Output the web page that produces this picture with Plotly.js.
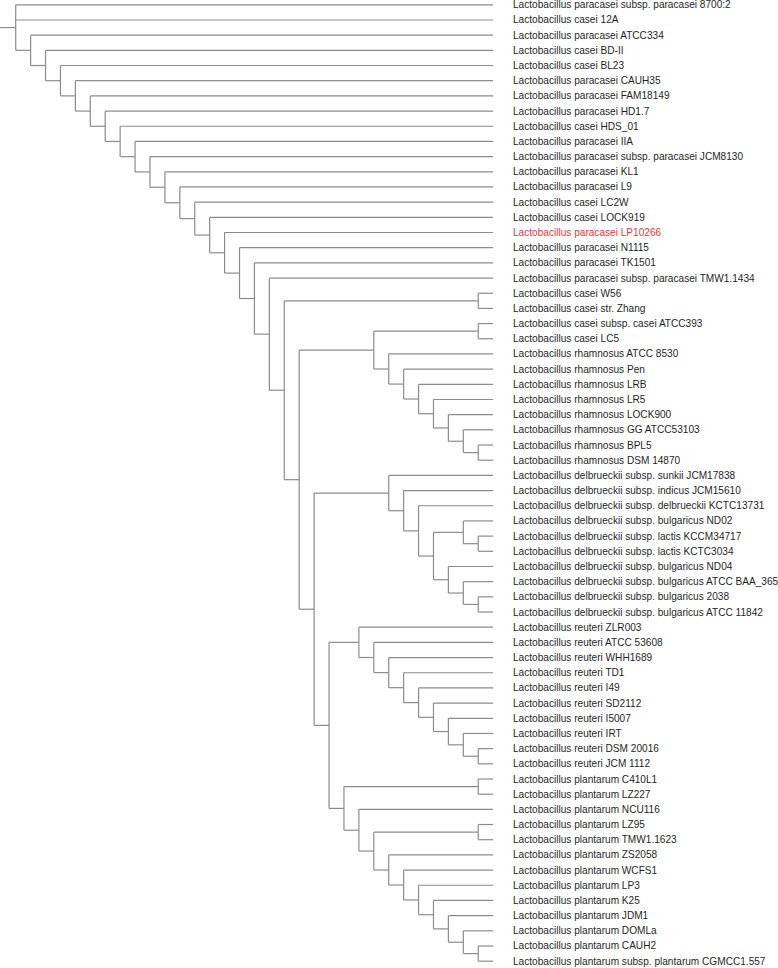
<!DOCTYPE html>
<html>
<head>
<meta charset="utf-8">
<script src="https://cdn.plot.ly/plotly-3.0.1.min.js"></script>
<style>html,body{margin:0;padding:0;background:#fff}</style>
</head>
<body>
<div id="chart" style="width:778px;height:968px"></div>
<script>
// ---- data ----
const leafNames = [
  "Lactobacillus paracasei subsp. paracasei 8700:2",
  "Lactobacillus casei 12A",
  "Lactobacillus paracasei ATCC334",
  "Lactobacillus casei BD-II",
  "Lactobacillus casei BL23",
  "Lactobacillus paracasei CAUH35",
  "Lactobacillus paracasei FAM18149",
  "Lactobacillus paracasei HD1.7",
  "Lactobacillus casei HDS_01",
  "Lactobacillus paracasei IIA",
  "Lactobacillus paracasei subsp. paracasei JCM8130",
  "Lactobacillus paracasei KL1",
  "Lactobacillus paracasei L9",
  "Lactobacillus casei LC2W",
  "Lactobacillus casei LOCK919",
  "Lactobacillus paracasei LP10266",
  "Lactobacillus paracasei N1115",
  "Lactobacillus paracasei TK1501",
  "Lactobacillus paracasei subsp. paracasei TMW1.1434",
  "Lactobacillus casei W56",
  "Lactobacillus casei str. Zhang",
  "Lactobacillus casei subsp. casei ATCC393",
  "Lactobacillus casei LC5",
  "Lactobacillus rhamnosus ATCC 8530",
  "Lactobacillus rhamnosus Pen",
  "Lactobacillus rhamnosus LRB",
  "Lactobacillus rhamnosus LR5",
  "Lactobacillus rhamnosus LOCK900",
  "Lactobacillus rhamnosus GG ATCC53103",
  "Lactobacillus rhamnosus BPL5",
  "Lactobacillus rhamnosus DSM 14870",
  "Lactobacillus delbrueckii subsp. sunkii JCM17838",
  "Lactobacillus delbrueckii subsp. indicus JCM15610",
  "Lactobacillus delbrueckii subsp. delbrueckii KCTC13731",
  "Lactobacillus delbrueckii subsp. bulgaricus ND02",
  "Lactobacillus delbrueckii subsp. lactis KCCM34717",
  "Lactobacillus delbrueckii subsp. lactis KCTC3034",
  "Lactobacillus delbrueckii subsp. bulgaricus ND04",
  "Lactobacillus delbrueckii subsp. bulgaricus ATCC BAA_365",
  "Lactobacillus delbrueckii subsp. bulgaricus 2038",
  "Lactobacillus delbrueckii subsp. bulgaricus ATCC 11842",
  "Lactobacillus reuteri ZLR003",
  "Lactobacillus reuteri ATCC 53608",
  "Lactobacillus reuteri WHH1689",
  "Lactobacillus reuteri TD1",
  "Lactobacillus reuteri I49",
  "Lactobacillus reuteri SD2112",
  "Lactobacillus reuteri I5007",
  "Lactobacillus reuteri IRT",
  "Lactobacillus reuteri DSM 20016",
  "Lactobacillus reuteri JCM 1112",
  "Lactobacillus plantarum C410L1",
  "Lactobacillus plantarum LZ227",
  "Lactobacillus plantarum NCU116",
  "Lactobacillus plantarum LZ95",
  "Lactobacillus plantarum TMW1.1623",
  "Lactobacillus plantarum ZS2058",
  "Lactobacillus plantarum WCFS1",
  "Lactobacillus plantarum LP3",
  "Lactobacillus plantarum K25",
  "Lactobacillus plantarum JDM1",
  "Lactobacillus plantarum DOMLa",
  "Lactobacillus plantarum CAUH2",
  "Lactobacillus plantarum subsp. plantarum CGMCC1.557"
];
const highlightedLeaves = ["Lactobacillus paracasei LP10266"];

// topology (Newick, leaves numbered 1..64 as in leafNames)
const cladeRhamnosusCasei = "((22,23),(24,(25,(26,(27,(28,(29,(30,31))))))))";
const cladeDelbrueckii   = "(32,(33,(34,((35,(36,37)),(38,(39,(40,41)))))))";
const cladeReuteri       = "(42,(43,(44,(45,(46,(47,(48,(49,(50,51)))))))))";
const cladePlantarum     = "((52,53),(54,((55,56),(57,(58,(59,(60,(61,(62,(63,64))))))))))";
const cladeReuPla  = "(" + cladeReuteri + "," + cladePlantarum + ")";
const cladeDelRest = "(" + cladeDelbrueckii + "," + cladeReuPla + ")";
const cladeOuter   = "(" + cladeRhamnosusCasei + "," + cladeDelRest + ")";
const clade20      = "((20,21)," + cladeOuter + ")";
const treeNewick = "(1,2,(3,(4,(5,(6,(7,(8,(9,(10,(11,(12,(13,(14,(15,(16,(17,(18,(19," +
                   clade20 + "))))))))))))))))))";

// ---- parse ----
function parseNewick(s) {
  let i = 0;
  function node() {
    if (s[i] === "(") {
      i++;
      const ch = [node()];
      while (s[i] === ",") { i++; ch.push(node()); }
      i++; // ')'
      return {children: ch};
    }
    let t = "";
    while (i < s.length && /[0-9]/.test(s[i])) t += s[i++];
    return {leaf: parseInt(t, 10) - 1};
  }
  return node();
}
const root = parseNewick(treeNewick);

// heights and leaf order
let order = 0;
function prep(n) {
  if (n.children) {
    n.children.forEach(prep);
    n.h = 1 + Math.max(...n.children.map(c => c.h));
    n.y = (n.children[0].y + n.children[n.children.length - 1].y) / 2;
  } else {
    n.h = 0;
    n.y = order++;
  }
}
prep(root);
const H = root.h;
const segX = [], segY = [];
function draw(n) {
  n.x = H - n.h;
  if (!n.children) return;
  const c0 = n.children[0], c1 = n.children[n.children.length - 1];
  segX.push(n.x, n.x, null); segY.push(c0.y, c1.y, null);
  n.children.forEach(c => {
    c.x = H - c.h;
    segX.push(n.x, c.x, null); segY.push(c.y, c.y, null);
    draw(c);
  });
}
draw(root);
// root stub
segX.push(-1.05, 0, null); segY.push(root.y, root.y, null);

const annotations = leafNames.map((name, k) => ({
  x: H + 1.2, y: k, xref: "x", yref: "y",
  text: name, showarrow: false, xanchor: "left", yanchor: "middle",
  font: {family: "Liberation Sans, Arial, sans-serif", size: 10.1,
         color: highlightedLeaves.includes(name) ? "#e53935" : "#1f1f1f"}
}));

const trace = {
  x: segX, y: segY, mode: "lines", type: "scatter",
  line: {color: "#8c8c8c", width: 1.2}, hoverinfo: "skip", showlegend: false
};

const layout = {
  width: 778, height: 968,
  margin: {l: 0, r: 0, t: 0, b: 0},
  paper_bgcolor: "#fff", plot_bgcolor: "#fff",
  xaxis: {range: [-1.052, 51.09], visible: false, showgrid: false, zeroline: false},
  yaxis: {range: [63.45, -0.316], visible: false, showgrid: false, zeroline: false},
  annotations: annotations,
  showlegend: false
};
Plotly.newPlot("chart", [trace], layout, {staticPlot: true});
</script>
</body>
</html>
